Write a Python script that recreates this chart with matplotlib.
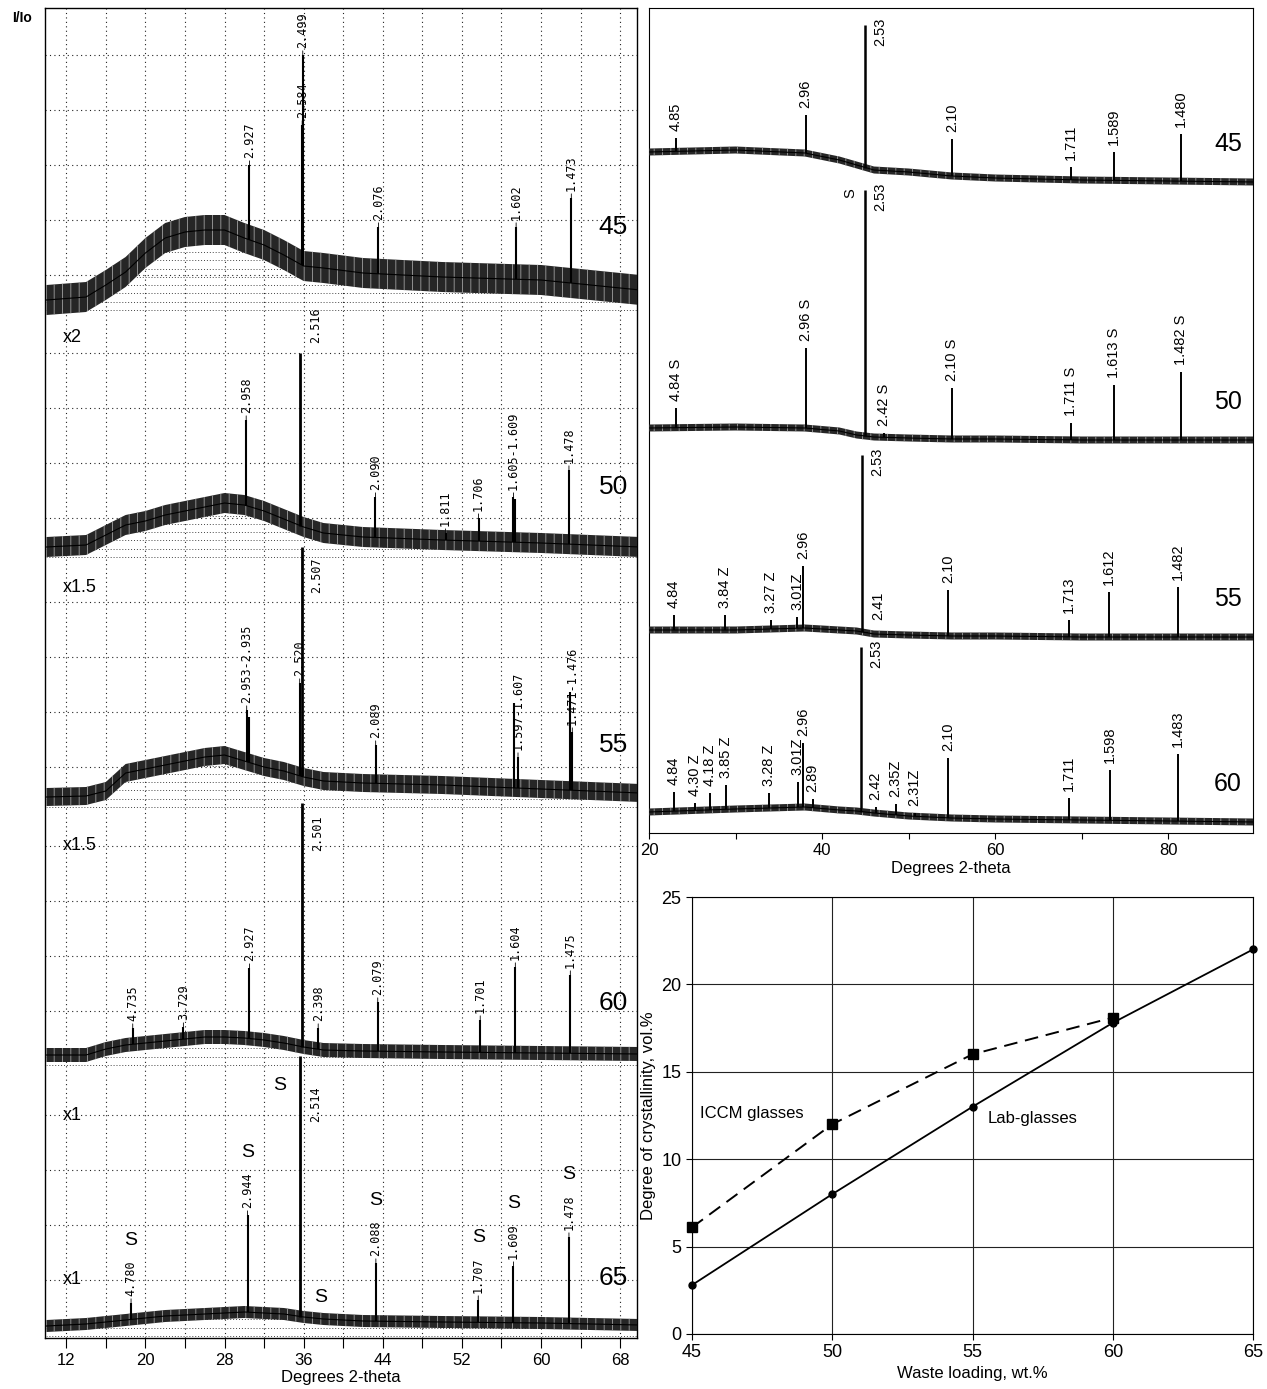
import matplotlib
matplotlib.use("Agg")
import matplotlib.pyplot as plt
import numpy as np

plt.rcParams["font.family"] = ["Liberation Sans", "DejaVu Sans"]
plt.rcParams["hatch.linewidth"] = 0.6

MONO = "DejaVu Sans Mono"

# ---------------- left panel: stacked patterns (counts offset per sample) ----------------
LEFT_TAGS = ["45", "50", "55", "60", "65"]
LEFT_OFFSETS = [1038, 791, 541, 283, 12]
LEFT_SCALE_NOTES = ["", "x2", "x1.5", "x1.5", "x1"]
LEFT_NOISE = [15, 10, 9, 7, 6]
LEFT_GRID_START = [25, 29, 30, 44, 46]

LEFT_BG_X = [10, 14, 16, 18, 20, 22, 24, 26, 28, 30, 32, 34, 36, 38, 42, 50, 60, 70]
LEFT_BG_45 = [0, 3, 15, 28, 47, 62, 68, 70, 70, 62, 55, 45, 34, 32, 27, 23, 20, 10]
LEFT_BG_50 = [0, 2, 12, 22, 26, 32, 36, 40, 44, 42, 36, 28, 20, 14, 10, 7, 4, 0]
LEFT_BG_55 = [0, 1, 6, 24, 28, 32, 36, 40, 42, 36, 30, 26, 20, 16, 14, 12, 8, 4]
LEFT_BG_60 = [0, 0, 6, 10, 12, 14, 16, 18, 18, 17, 15, 12, 8, 5, 4, 3, 2, 1]
LEFT_BG_65 = [0, 2, 4, 6, 8, 10, 11, 12, 13, 14, 13, 12, 9, 7, 5, 4, 3, 1]

# (2-theta, height, d-label, label mode)
LEFT_PEAKS_45 = [(30.52, 135, "2.927", ""), (35.85, 175, "2.584", ""), (35.91, 245, "2.499", ""),
                 (43.56, 73, "2.076", ""), (57.48, 73, "1.602", ""), (63.06, 102, "1.473", "")]
LEFT_PEAKS_50 = [(30.19, 127, "2.958", ""), (35.66, 194, "2.516", "side"), (43.26, 50, "2.090", ""),
                 (50.35, 14, "1.811", ""), (53.68, 29, "1.706", ""), (57.21, 50, "1.605-1.609", ""),
                 (57.36, 48, "", ""), (62.82, 77, "1.478", "")]
LEFT_PEAKS_55 = [(30.24, 87, "2.953-2.935", ""), (30.43, 80, "", ""), (35.60, 114, "2.520", ""),
                 (35.79, 250, "2.507", "side"), (43.28, 52, "2.089", ""), (57.29, 94, "", ""),
                 (57.67, 40, "1.597-1.607", ""), (62.91, 105, "", ""), (63.16, 65, "1.471-1.476", "")]
LEFT_PEAKS_60 = [(18.72, 27, "4.735", ""), (23.84, 28, "3.729", ""), (30.52, 87, "2.927", ""),
                 (35.88, 252, "2.501", "side"), (37.47, 27, "2.398", ""), (43.49, 53, "2.079", ""),
                 (53.85, 35, "1.701", ""), (57.40, 88, "1.604", ""), (62.96, 80, "1.475", "")]
LEFT_PEAKS_65 = [(18.55, 23, "4.780", "S"), (30.33, 111, "2.944", "S"), (35.68, 270, "2.514", "side"),
                 (43.30, 63, "2.088", "S"), (53.65, 26, "1.707", "S"), (57.21, 60, "1.609", "S"),
                 (62.82, 89, "1.478", "S")]
LEFT_EXTRA_S_65 = [(33.6, 241), (37.7, 29)]
LEFT_TAG_RISE = [73, 60, 52, 52, 48]

# ---------------- right top panel: stacked patterns ----------------
RIGHT_TAGS = ["45", "50", "55", "60"]
RIGHT_OFFSETS = [651, 393, 196, 11]
RIGHT_BG_X = [20, 30, 38, 42, 44, 46, 50, 55, 60, 70, 80, 90]
RIGHT_BG_45 = [30, 32, 29, 22, 17, 12, 10, 6, 4, 2, 1, 0]
RIGHT_BG_50 = [12, 13, 12, 9, 5, 3, 2, 1, 1, 0, 0, 0]
RIGHT_BG_55 = [7, 7, 9, 7, 6, 3, 2, 1, 1, 0, 0, 0]
RIGHT_BG_60 = [10, 13, 15, 12, 11, 9, 6, 4, 3, 2, 1, 0]

RIGHT_PEAKS_45 = [(23.1, 44, "4.85", ""), (38.1, 67, "2.96", ""), (45.0, 157, "2.53", "side"),
                  (55.0, 43, "2.10", ""), (68.8, 15, "1.711", ""), (73.7, 30, "1.589", ""),
                  (81.5, 48, "1.480", "")]
RIGHT_PEAKS_50 = [(23.1, 32, "4.84 S", ""), (38.1, 92, "2.96 S", ""), (45.0, 250, "2.53", "sideS"),
                  (47.1, 7, "2.42 S", ""), (55.0, 52, "2.10 S", ""), (68.8, 17, "1.711 S", ""),
                  (73.7, 55, "1.613 S", ""), (81.5, 68, "1.482 S", "")]
RIGHT_PEAKS_55 = [(22.9, 22, "4.84", ""), (28.8, 22, "3.84 Z", ""), (34.1, 17, "3.27 Z", ""),
                  (37.1, 20, "3.01Z", ""), (37.8, 71, "2.96", ""), (44.6, 182, "2.53", "side"),
                  (45.2, 5, "2.41", "right"), (54.6, 47, "2.10", ""), (68.5, 17, "1.713", ""),
                  (73.2, 45, "1.612", ""), (81.1, 50, "1.482", "")]
RIGHT_PEAKS_60 = [(22.9, 30, "4.84", ""), (25.3, 19, "4.30 Z", ""), (27.0, 29, "4.18 Z", ""),
                  (28.9, 37, "3.85 Z", ""), (33.9, 29, "3.28 Z", ""), (37.2, 40, "3.01Z", ""),
                  (37.8, 79, "2.96", ""), (38.9, 23, "2.89", ""), (44.5, 175, "2.53", "side"),
                  (46.2, 15, "2.42", ""), (48.5, 18, "2.35Z", ""), (50.7, 9, "2.31Z", ""),
                  (54.6, 64, "2.10", ""), (68.5, 24, "1.711", ""), (73.3, 52, "1.598", ""),
                  (81.1, 68, "1.483", "")]

# ---------------- bottom right: crystallinity ----------------
WASTE_LOADING = [45, 50, 55, 60, 65]
LAB_GLASSES = [2.8, 8.0, 13.0, 17.8, 22.0]
ICCM_LOADING = [45, 50, 55, 60]
ICCM_GLASSES = [6.1, 12.0, 16.0, 18.1]


def draw_trace(ax, bg_x, bg, offset, half_width):
    x = np.asarray(bg_x, float)
    y = offset + np.asarray(bg, float)
    ax.fill_between(x, y - half_width, y + half_width, facecolor="#262626",
                    edgecolor="#a0a0a0", hatch="||", linewidth=0, zorder=3)
    ax.plot(x, y, color="black", lw=0.8, zorder=4)


def dotted_fill(ax, bg_x, bg, offset, step=8.3):
    x = np.asarray(bg_x, float)
    y = offset + np.asarray(bg, float)
    poly = ax.fill_between(x, offset - 12, y, facecolor="none", linewidth=0)
    clip = poly.get_paths()[0]
    for level in np.arange(offset - 10, y.max(), step):
        line, = ax.plot([x[0], x[-1]], [level, level], ls=(0, (1, 2)),
                        color="#444444", lw=0.7, zorder=1)
        line.set_clip_path(clip, ax.transData)


def left_peaks(ax, peaks, bg, offset, s_marks):
    for pos, height, label, mode in peaks:
        base = offset + np.interp(pos, LEFT_BG_X, bg)
        top = offset + height
        ax.vlines(pos, base, top, color="black", lw=2.0 if mode == "side" else 1.5, zorder=5)
        if not label:
            continue
        if mode == "side":
            ax.text(pos + 1.5, offset + 240, label, rotation=90, ha="center", va="top",
                    fontsize=8.5, family=MONO, zorder=6)
            continue
        ax.annotate(label, xy=(pos, top), xytext=(0, 5), textcoords="offset points",
                    rotation=90, ha="center", va="bottom", fontsize=8.5, family=MONO,
                    arrowprops=dict(arrowstyle="-", lw=0.6, color="black",
                                    shrinkA=0, shrinkB=0), zorder=6)
        if mode == "S":
            rise = 5 + len(label) * 0.602 * 8.5 + 8
            ax.annotate("S", xy=(pos, top), xytext=(0, rise), textcoords="offset points",
                        ha="center", va="bottom", fontsize=14, zorder=6)
    for pos, height in s_marks:
        ax.text(pos, offset + height, "S", ha="center", va="center", fontsize=14, zorder=6)


def right_peaks(ax, peaks, bg, offset):
    for pos, height, label, mode in peaks:
        base = offset + np.interp(pos, RIGHT_BG_X, bg)
        top = offset + height
        ax.vlines(pos, base, top, color="black", lw=1.8 if mode.startswith("side") else 1.4, zorder=5)
        if mode.startswith("side"):
            ax.text(pos + 1.75, top + 7, label, rotation=90, ha="center", va="top",
                    fontsize=10.5, zorder=6)
            if mode == "sideS":
                ax.text(pos - 1.7, top + 2, "S", rotation=90, ha="center", va="top",
                        fontsize=10.5, zorder=6)
        elif mode == "right":
            ax.annotate(label, xy=(pos, top), xytext=(3, 9), textcoords="offset points",
                        rotation=90, ha="left", va="bottom", fontsize=10.5, zorder=6)
        else:
            ax.annotate(label, xy=(pos, top), xytext=(0, 5), textcoords="offset points",
                        rotation=90, ha="center", va="bottom", fontsize=10.5, zorder=6)


fig = plt.figure(figsize=(12.67, 13.89), dpi=100)

# ---------------- left panel ----------------
axl = fig.add_axes([45 / 1267, 51 / 1389, 592 / 1267, 1330 / 1389])
axl.set_xlim(9.85, 69.7)
axl.set_ylim(0, 1330)
for v in np.arange(12, 69, 4):
    axl.axvline(v, ls=(0, (1, 3)), color="#222222", lw=0.8, zorder=0)

left_bgs = [LEFT_BG_45, LEFT_BG_50, LEFT_BG_55, LEFT_BG_60, LEFT_BG_65]
left_peak_sets = [LEFT_PEAKS_45, LEFT_PEAKS_50, LEFT_PEAKS_55, LEFT_PEAKS_60, LEFT_PEAKS_65]
for i, (tag, offset, bg, peaks) in enumerate(zip(LEFT_TAGS, LEFT_OFFSETS, left_bgs, left_peak_sets)):
    block_top = 1330 if i == 0 else LEFT_OFFSETS[i - 1] - 8
    for level in np.arange(offset + LEFT_GRID_START[i], block_top, 55):
        axl.axhline(level, ls=(0, (1, 3)), color="#222222", lw=0.8, zorder=0)
    dotted_fill(axl, LEFT_BG_X, bg, offset)
    draw_trace(axl, LEFT_BG_X, bg, offset, LEFT_NOISE[i])
    left_peaks(axl, peaks, bg, offset, LEFT_EXTRA_S_65 if tag == "65" else [])
    axl.text(67.3, offset + LEFT_TAG_RISE[i], tag, ha="center", va="center", fontsize=19, zorder=7)
    if LEFT_SCALE_NOTES[i]:
        axl.text(11.6, offset + 210, LEFT_SCALE_NOTES[i], ha="left", va="center", fontsize=13)
axl.text(11.6, LEFT_OFFSETS[-1] + 46, "x1", ha="left", va="center", fontsize=13)

ticks = np.arange(12, 69, 4)
axl.set_xticks(ticks)
axl.set_xticklabels([str(t) if (t - 12) % 8 == 0 else "" for t in ticks])
axl.set_yticks([])
axl.tick_params(axis="x", direction="out", length=7, labelsize=12)
axl.set_xlabel("Degrees 2-theta", fontsize=12, labelpad=2)
for s in axl.spines.values():
    s.set_linewidth(1.0)
fig.text(22 / 1267, 1 - 18 / 1389, "I/Io", ha="center", va="center", fontsize=10, weight="bold")

# ---------------- right top panel ----------------
axr = fig.add_axes([649 / 1267, 556 / 1389, 604 / 1267, 825 / 1389])
axr.set_xlim(20, 89.8)
axr.set_ylim(0, 825)
right_bgs = [RIGHT_BG_45, RIGHT_BG_50, RIGHT_BG_55, RIGHT_BG_60]
right_peak_sets = [RIGHT_PEAKS_45, RIGHT_PEAKS_50, RIGHT_PEAKS_55, RIGHT_PEAKS_60]
for tag, offset, bg, peaks in zip(RIGHT_TAGS, RIGHT_OFFSETS, right_bgs, right_peak_sets):
    draw_trace(axr, RIGHT_BG_X, bg, offset, 3.5)
    right_peaks(axr, peaks, bg, offset)
    axr.text(86.9, offset + 38, tag, ha="center", va="center", fontsize=18, zorder=7)
axr.set_xticks(np.arange(20, 90, 10))
axr.set_xticklabels(["20", "", "40", "", "60", "", "80"])
axr.set_yticks([])
axr.tick_params(axis="x", direction="out", length=4, labelsize=12)
axr.set_xlabel("Degrees 2-theta", fontsize=12, labelpad=2)

# ---------------- bottom right chart ----------------
axc = fig.add_axes([692 / 1267, 55 / 1389, 561 / 1267, 437 / 1389])
axc.set_xlim(45, 65)
axc.set_ylim(0, 25)
axc.set_xticks(WASTE_LOADING)
axc.set_yticks(np.arange(0, 26, 5))
axc.grid(True, color="#222222", lw=0.8)
axc.set_axisbelow(True)
axc.plot(WASTE_LOADING, LAB_GLASSES, color="black", lw=1.3, marker="o", ms=5, clip_on=False, zorder=3)
axc.plot(ICCM_LOADING, ICCM_GLASSES, color="black", lw=1.4, ls=(0, (7, 4)), marker="s", ms=7,
         clip_on=False, zorder=3)
axc.text(45.3, 12.6, "ICCM glasses", ha="left", va="center", fontsize=12)
axc.text(55.55, 12.35, "Lab-glasses", ha="left", va="center", fontsize=12)
axc.tick_params(direction="out", length=4, labelsize=13)
axc.set_xlabel("Waste loading, wt.%", fontsize=12, labelpad=3)
axc.set_ylabel("Degree of crystallinity, vol.%", fontsize=12, labelpad=4)

fig.savefig("out.png", dpi=100)
